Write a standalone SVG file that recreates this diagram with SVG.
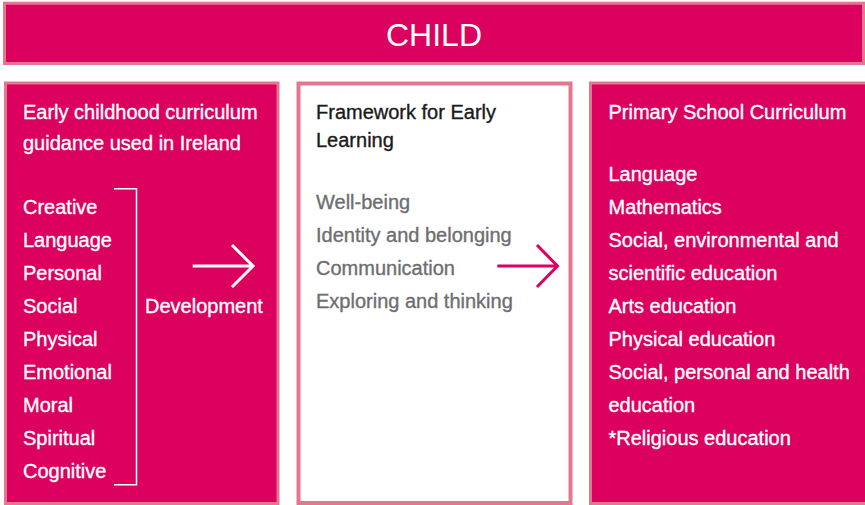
<svg xmlns="http://www.w3.org/2000/svg" width="865" height="505" viewBox="0 0 865 505">
<defs>
<style>
.box{fill:#DC005F;stroke:#E8758E;stroke-width:3}
.wbox{fill:#FFFFFF;stroke:#E8758E;stroke-width:4}
text{font-family:"Liberation Sans",Arial,sans-serif;font-size:20px;stroke-width:0.35}
.w{fill:#FFFFFF;stroke:#FFFFFF}
.k{fill:#1A1A1A;stroke:#1A1A1A}
.g{fill:#6D6E71;stroke:#6D6E71}
.title{font-size:32px;text-anchor:middle;stroke:none}
.conn{fill:none;stroke-width:3;stroke-linecap:butt;stroke-linejoin:miter}
</style>
</defs>
<rect width="865" height="505" fill="#FFFFFF"/>
<g id="child">
<rect class="box" x="4.5" y="3.2" width="859" height="60.3"/>
<text class="w title" x="434" y="46">CHILD</text>
</g>
<g id="early-childhood">
<rect class="box" x="5.5" y="83" width="272.5" height="420.5"/>
<text class="w" x="23" y="119">Early childhood curriculum</text>
<text class="w" x="23" y="149.5">guidance used in Ireland</text>
<text class="w" x="23" y="213.5">Creative</text>
<text class="w" x="23" y="246.5">Language</text>
<text class="w" x="23" y="279.5">Personal</text>
<text class="w" x="23" y="312.5">Social</text>
<text class="w" x="23" y="345.5">Physical</text>
<text class="w" x="23" y="378.5">Emotional</text>
<text class="w" x="23" y="411.5">Moral</text>
<text class="w" x="23" y="444.5">Spiritual</text>
<text class="w" x="23" y="477.5">Cognitive</text>
<path d="M114 188.7 H136.5 V484.7 H114" fill="none" stroke="#FFFFFF" stroke-width="1.5"/>
<text class="w" x="145" y="312.5">Development</text>
</g>
<g id="framework">
<rect class="wbox" x="298.5" y="83.5" width="272" height="419.5"/>
<text class="k" x="316" y="119">Framework for Early</text>
<text class="k" x="316" y="146.7">Learning</text>
<text class="g" x="316" y="209">Well-being</text>
<text class="g" x="316" y="242">Identity and belonging</text>
<text class="g" x="316" y="275">Communication</text>
<text class="g" x="316" y="308">Exploring and thinking</text>
</g>
<g id="primary">
<rect class="box" x="590.5" y="83" width="280" height="420.5"/>
<text class="w" x="608.5" y="119">Primary School Curriculum</text>
<text class="w" x="608.5" y="180.5">Language</text>
<text class="w" x="608.5" y="213.5">Mathematics</text>
<text class="w" x="608.5" y="246.5">Social, environmental and</text>
<text class="w" x="608.5" y="279.5">scientific education</text>
<text class="w" x="608.5" y="312.5">Arts education</text>
<text class="w" x="608.5" y="345.5">Physical education</text>
<text class="w" x="608.5" y="378.5">Social, personal and health</text>
<text class="w" x="608.5" y="411.5">education</text>
<text class="w" x="608.5" y="444.5">*Religious education</text>
</g>
<g id="connectors">
<path class="conn" stroke="#FFFFFF" d="M192.7 266 H253 M232 245 L253 266 L232 287"/>
<path class="conn" stroke="#DC005F" d="M497.3 266 H557.5 M537 245 L557.5 266 L537 287"/>
</g>
</svg>
